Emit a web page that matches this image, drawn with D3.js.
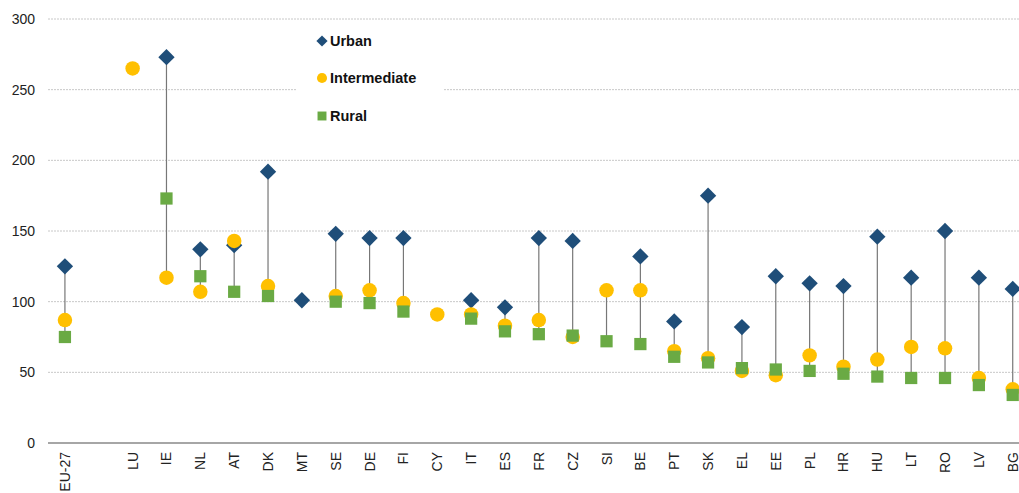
<!DOCTYPE html>
<html>
<head>
<meta charset="utf-8">
<script src="https://cdn.jsdelivr.net/npm/d3@7"></script>
<style>
  body { margin: 0; background: #fff; font-family: "Liberation Sans", Arial, sans-serif; }
</style>
</head>
<body>
<div id="chart"></div>
<script>
// country codes ('' is an empty slot after EU-27)
const countries = ['EU-27', '', 'LU', 'IE', 'NL', 'AT', 'DK', 'MT', 'SE', 'DE', 'FI', 'CY', 'IT', 'ES', 'FR', 'CZ',
    'SI', 'BE', 'PT', 'SK', 'EL', 'EE', 'PL', 'HR', 'HU', 'LT', 'RO', 'LV', 'BG'];
const urban = [125, null, null, 273, 137, 140, 192, 101, 148, 145, 145, null, 101, 96, 145, 143,
    null, 132, 86, 175, 82, 118, 113, 111, 146, 117, 150, 117, 109];
const intermediate = [87, null, 265, 117, 107, 143, 111, null, 104, 108, 99, 91, 91, 83, 87, 75,
    108, 108, 65, 60, 51, 48, 62, 54, 59, 68, 67, 46, 38];
const rural = [75, null, null, 173, 118, 107, 104, null, 100, 99, 93, null, 88, 79, 77, 76,
    72, 70, 61, 57, 53, 52, 51, 49, 47, 46, 46, 41, 34];
const yTicks = [0, 50, 100, 150, 200, 250, 300];

const width = 1019, height = 493;
const svg = d3.select('#chart').append('svg').attr('width', width).attr('height', height);

const x = d3.scaleBand().domain(countries.map((c, i) => i)).range([48, 48 + 29 * 33.85]);
const y = d3.scaleLinear().domain([0, 300]).range([443, 19]);
const cx = i => x(i) + x.bandwidth() / 2;

// gridlines
svg.append('g').selectAll('line').data(yTicks.filter(t => t > 0)).join('line')
    .attr('x1', 48).attr('x2', width).attr('y1', d => y(d)).attr('y2', d => y(d))
    .attr('stroke', '#c8c8c8').attr('stroke-dasharray', '2,1');
svg.append('g').selectAll('text').data(yTicks).join('text')
    .attr('x', 35).attr('y', d => y(d) + 5).attr('text-anchor', 'end')
    .attr('font-size', 14).attr('fill', '#222').text(d => d);

// zero axis
svg.append('line').attr('x1', 48).attr('x2', width).attr('y1', y(0)).attr('y2', y(0))
    .attr('stroke', '#888').attr('stroke-width', 1.5);

// range lines
const rows = countries.map((c, i) => [urban[i], intermediate[i], rural[i]].filter(v => v != null));
svg.append('g').selectAll('line').data(rows).join('line')
    .filter(vals => vals.length > 1)
    .attr('x1', (d, i) => cx(rows.indexOf(d)))
    .attr('x2', (d, i) => cx(rows.indexOf(d)))
    .attr('y1', d => y(d3.max(d))).attr('y2', d => y(d3.min(d)))
    .attr('stroke', '#777').attr('stroke-width', 1.2);

// legend background
svg.append('rect').attr('x', 296).attr('y', 22).attr('width', 147).attr('height', 112).attr('fill', '#fff');

const points = arr => arr.map((v, i) => [i, v]).filter(d => d[1] != null);

svg.append('g').selectAll('path').data(points(urban)).join('path')
    .attr('d', d3.symbol().type(d3.symbolDiamond2).size(170)).attr('fill', '#1f4e79')
    .attr('transform', d => `translate(${cx(d[0])},${y(d[1])})`);
svg.append('g').selectAll('path').data(points(intermediate)).join('path')
    .attr('d', d3.symbol().type(d3.symbolCircle).size(165)).attr('fill', '#ffc000')
    .attr('transform', d => `translate(${cx(d[0])},${y(d[1])})`);
svg.append('g').selectAll('path').data(points(rural)).join('path')
    .attr('d', d3.symbol().type(d3.symbolSquare).size(150)).attr('fill', '#6aaa44')
    .attr('transform', d => `translate(${cx(d[0])},${y(d[1])})`);

// x labels
svg.append('g').selectAll('text').data(countries).join('text')
    .attr('transform', (d, i) => `translate(${cx(i) + 5},${452}) rotate(-90)`)
    .attr('text-anchor', 'end').attr('font-size', 14).attr('fill', '#222').text(d => d);

// legend
const legend = [['Urban', d3.symbolDiamond2, '#1f4e79', 41], ['Intermediate', d3.symbolCircle, '#ffc000', 78],
    ['Rural', d3.symbolSquare, '#6aaa44', 116]];
const lg = svg.append('g').selectAll('g').data(legend).join('g')
    .attr('transform', d => `translate(322,${d[3]})`);
lg.append('path').attr('d', d => d3.symbol().type(d[1]).size(80)()).attr('fill', d => d[2]);
lg.append('text').attr('x', 8).attr('y', 5).attr('font-size', 14.5).attr('font-weight', 'bold')
    .attr('fill', '#111').text(d => d[0]);
</script>
</body>
</html>
